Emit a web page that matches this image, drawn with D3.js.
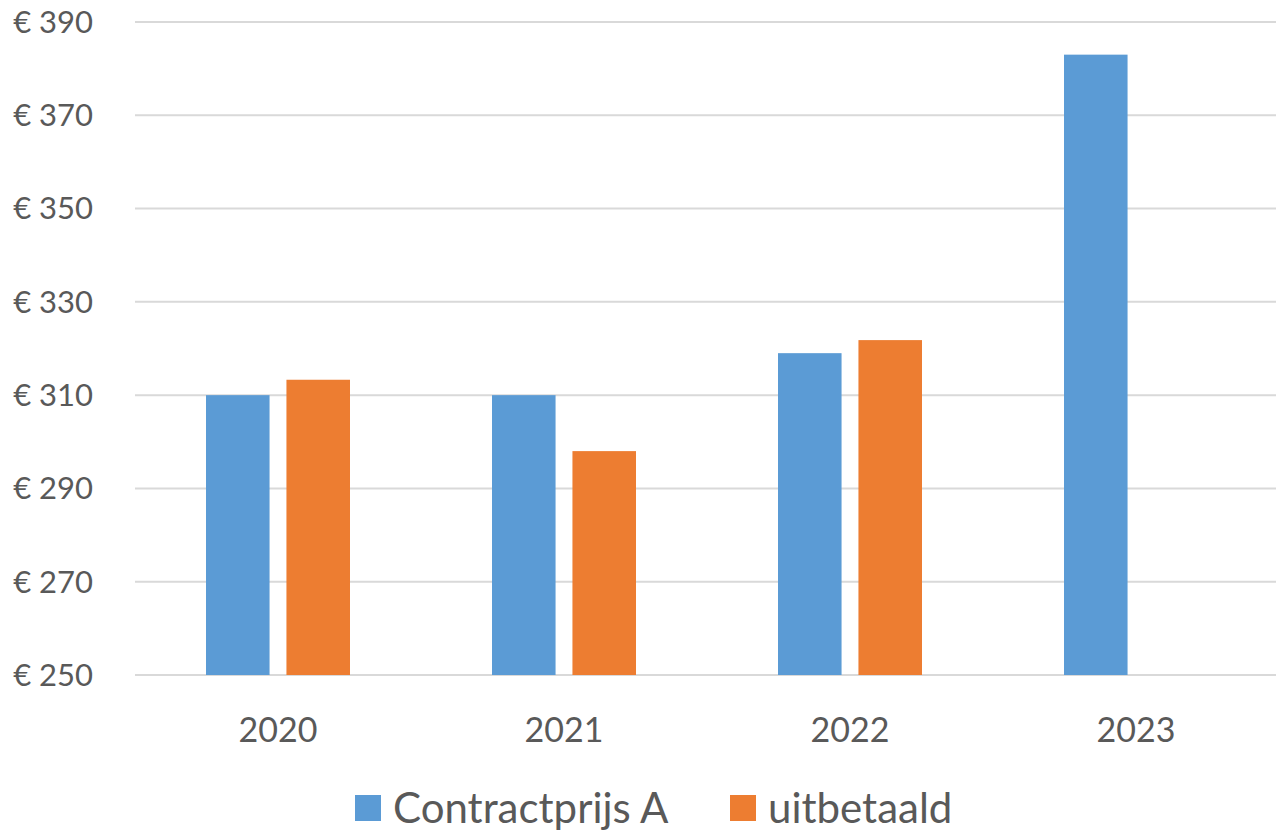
<!DOCTYPE html>
<html lang="nl">
<head>
    <meta charset="utf-8">
    <title>Contractprijs vs uitbetaald</title>
    <script src="https://cdn.jsdelivr.net/npm/d3@7/dist/d3.min.js"></script>
    <style>
        body { margin: 0; background: #fff; }
        text { font-family: "Lato", "Open Sans", sans-serif; fill: #595959; }
    </style>
</head>
<body>
<script>
    // data
    var years = ["2020", "2021", "2022", "2023"];
    var seriesNames = ["Contractprijs A", "uitbetaald"];
    var contractprijs = [310, 310, 319, 383];
    var uitbetaald = [313.3, 298, 321.8, null];
    var yTicks = [250, 270, 290, 310, 330, 350, 370, 390];
    var colors = ["#5B9BD5", "#ED7D31"];

    var w = 1276, h = 832;
    var plotLeft = 135, plotRight = 1279, plotTop = 22, plotBottom = 675;

    var svg = d3.select("body").append("svg")
        .attr("width", w)
        .attr("height", h);

    var y = d3.scaleLinear().domain([250, 390]).range([plotBottom, plotTop]);
    var x = d3.scaleBand().domain(years).range([plotLeft, plotRight]);
    var inner = d3.scaleBand().domain(seriesNames)
        .range([71, x.bandwidth() - 71])
        .paddingInner(0.21);

    // gridlines
    svg.append("g").selectAll("line")
        .data(yTicks)
        .enter().append("line")
        .attr("x1", plotLeft).attr("x2", w)
        .attr("y1", function(d) { return y(d); })
        .attr("y2", function(d) { return y(d); })
        .attr("stroke", "#D9D9D9")
        .attr("stroke-width", 2);

    // y labels
    svg.append("g").selectAll("text")
        .data(yTicks)
        .enter().append("text")
        .attr("x", 93)
        .attr("y", function(d) { return y(d); })
        .attr("dy", "0.35em")
        .attr("text-anchor", "end")
        .attr("font-size", "31px")
        .text(function(d) { return "€ " + d; });

    // bars
    var rows = [];
    years.forEach(function(yr, i) {
        rows.push({ year: yr, s: seriesNames[0], v: contractprijs[i], c: colors[0] });
        if (uitbetaald[i] != null) rows.push({ year: yr, s: seriesNames[1], v: uitbetaald[i], c: colors[1] });
    });

    svg.append("g").selectAll("rect")
        .data(rows)
        .enter().append("rect")
        .attr("x", function(d) { return x(d.year) + inner(d.s); })
        .attr("y", function(d) { return y(d.v); })
        .attr("width", inner.bandwidth())
        .attr("height", function(d) { return y(250) - y(d.v); })
        .attr("fill", function(d) { return d.c; });

    // x labels
    svg.append("g").selectAll("text")
        .data(years)
        .enter().append("text")
        .attr("x", function(d) { return x(d) + x.bandwidth() / 2; })
        .attr("y", 742)
        .attr("text-anchor", "middle")
        .attr("font-size", "34px")
        .text(function(d) { return d; });

    // legend
    var legendX = [355, 730];
    var lg = svg.append("g").selectAll("g")
        .data(seriesNames)
        .enter().append("g")
        .attr("transform", function(d, i) { return "translate(" + legendX[i] + ",795)"; });
    lg.append("rect")
        .attr("width", 26).attr("height", 26)
        .attr("fill", function(d, i) { return colors[i]; });
    lg.append("text")
        .attr("x", 38).attr("y", 13)
        .attr("dy", "0.36em")
        .attr("font-size", "42px")
        .text(function(d) { return d; });
</script>
</body>
</html>
